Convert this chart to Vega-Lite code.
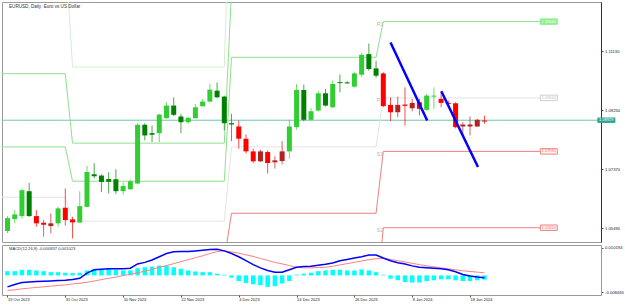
{
  "$schema": "https://vega.github.io/schema/vega-lite/v6.json",
  "background": "white",
  "padding": {"left": 1, "top": 1, "right": 0, "bottom": 0},
  "autosize": {"type": "pad"},
  "spacing": 1,
  "config": {
    "font": "Liberation Sans",
    "view": {"stroke": "#9a9a9a", "strokeWidth": 1},
    "axis": {"grid": false, "labelOverlap": false, "labelFlush": false, "labelColor": "#222", "tickColor": "#555"},
    "axisX": {"labelOverlap": false},
    "axisY": {"labelOverlap": false}
  },
  "datasets": {
    "candles": [
      {"i":0,"o":1.05405,"h":1.05880,"l":1.05341,"c":1.05816,"k":"up-bull"},
      {"i":1,"o":1.05785,"h":1.06070,"l":1.05649,"c":1.05934,"k":"up-bull"},
      {"i":2,"o":1.05880,"h":1.06757,"l":1.05807,"c":1.06703,"k":"up-bull"},
      {"i":3,"o":1.06672,"h":1.06934,"l":1.05858,"c":1.05880,"k":"up-bear"},
      {"i":4,"o":1.05880,"h":1.06070,"l":1.05541,"c":1.05649,"k":"down-bear"},
      {"i":5,"o":1.05668,"h":1.05753,"l":1.05224,"c":1.05604,"k":"down-bear"},
      {"i":6,"o":1.05563,"h":1.05965,"l":1.05332,"c":1.05649,"k":"down-bull"},
      {"i":7,"o":1.05649,"h":1.06174,"l":1.05541,"c":1.06124,"k":"up-bull"},
      {"i":8,"o":1.06143,"h":1.06757,"l":1.05579,"c":1.05753,"k":"down-bear"},
      {"i":9,"o":1.05775,"h":1.05858,"l":1.05167,"c":1.05680,"k":"down-bear"},
      {"i":10,"o":1.05674,"h":1.06672,"l":1.05668,"c":1.06197,"k":"up-bull"},
      {"i":11,"o":1.06174,"h":1.07479,"l":1.06165,"c":1.07283,"k":"up-bull"},
      {"i":12,"o":1.07210,"h":1.07558,"l":1.07083,"c":1.07147,"k":"up-bear"},
      {"i":13,"o":1.07169,"h":1.07210,"l":1.06640,"c":1.06966,"k":"up-bear"},
      {"i":14,"o":1.07058,"h":1.07273,"l":1.06599,"c":1.06972,"k":"up-bear"},
      {"i":15,"o":1.07052,"h":1.07368,"l":1.06586,"c":1.06672,"k":"up-bear"},
      {"i":16,"o":1.06672,"h":1.06950,"l":1.06561,"c":1.06836,"k":"up-bull"},
      {"i":17,"o":1.06735,"h":1.07042,"l":1.06719,"c":1.06988,"k":"up-bull"},
      {"i":18,"o":1.06915,"h":1.08835,"l":1.06893,"c":1.08784,"k":"up-bull"},
      {"i":19,"o":1.08784,"h":1.08835,"l":1.08287,"c":1.08445,"k":"up-bear"},
      {"i":20,"o":1.08518,"h":1.08762,"l":1.08233,"c":1.08467,"k":"up-bear"},
      {"i":21,"o":1.08518,"h":1.09132,"l":1.08233,"c":1.09110,"k":"up-bull"},
      {"i":22,"o":1.08993,"h":1.09500,"l":1.08984,"c":1.09395,"k":"up-bull"},
      {"i":23,"o":1.09395,"h":1.09658,"l":1.09063,"c":1.09101,"k":"up-bear"},
      {"i":24,"o":1.09047,"h":1.09132,"l":1.08518,"c":1.08866,"k":"up-bear"},
      {"i":25,"o":1.08866,"h":1.09025,"l":1.08816,"c":1.09006,"k":"up-bull"},
      {"i":26,"o":1.08993,"h":1.09449,"l":1.08984,"c":1.09341,"k":"up-bull"},
      {"i":27,"o":1.09373,"h":1.09607,"l":1.09364,"c":1.09522,"k":"up-bull"},
      {"i":28,"o":1.09522,"h":1.10082,"l":1.09500,"c":1.09902,"k":"up-bull"},
      {"i":29,"o":1.09870,"h":1.10133,"l":1.09633,"c":1.09658,"k":"up-bear"},
      {"i":30,"o":1.09680,"h":1.09712,"l":1.08603,"c":1.08835,"k":"up-bear"},
      {"i":31,"o":1.08835,"h":1.09132,"l":1.08265,"c":1.08793,"k":"up-bear"},
      {"i":32,"o":1.08730,"h":1.08920,"l":1.08024,"c":1.08341,"k":"down-bear"},
      {"i":33,"o":1.08341,"h":1.08477,"l":1.07866,"c":1.07938,"k":"down-bear"},
      {"i":34,"o":1.07938,"h":1.08018,"l":1.07574,"c":1.07622,"k":"down-bear"},
      {"i":35,"o":1.07622,"h":1.07992,"l":1.07600,"c":1.07938,"k":"down-bull"},
      {"i":36,"o":1.07916,"h":1.07970,"l":1.07232,"c":1.07568,"k":"down-bear"},
      {"i":37,"o":1.07590,"h":1.07780,"l":1.07391,"c":1.07653,"k":"down-bull"},
      {"i":38,"o":1.07631,"h":1.08265,"l":1.07527,"c":1.07938,"k":"down-bull"},
      {"i":39,"o":1.07938,"h":1.08942,"l":1.07707,"c":1.08730,"k":"up-bull"},
      {"i":40,"o":1.08708,"h":1.10082,"l":1.08626,"c":1.09892,"k":"up-bull"},
      {"i":41,"o":1.09892,"h":1.10060,"l":1.08888,"c":1.08942,"k":"up-bear"},
      {"i":42,"o":1.08942,"h":1.09322,"l":1.08920,"c":1.09215,"k":"up-bull"},
      {"i":43,"o":1.09237,"h":1.09870,"l":1.09205,"c":1.09785,"k":"up-bull"},
      {"i":44,"o":1.09785,"h":1.09924,"l":1.09364,"c":1.09395,"k":"up-bear"},
      {"i":45,"o":1.09341,"h":1.10187,"l":1.09316,"c":1.10082,"k":"up-bull"},
      {"i":46,"o":1.10139,"h":1.10377,"l":1.09816,"c":1.10108,"k":"up-bear"},
      {"i":47,"o":1.10133,"h":1.10171,"l":1.10092,"c":1.10101,"k":"up-bear"},
      {"i":48,"o":1.09997,"h":1.10472,"l":1.09965,"c":1.10418,"k":"up-bull"},
      {"i":49,"o":1.10377,"h":1.11074,"l":1.10314,"c":1.11010,"k":"up-bull"},
      {"i":50,"o":1.11033,"h":1.11368,"l":1.10504,"c":1.10558,"k":"up-bear"},
      {"i":51,"o":1.10577,"h":1.10820,"l":1.10282,"c":1.10345,"k":"up-bear"},
      {"i":52,"o":1.10418,"h":1.10456,"l":1.09348,"c":1.09379,"k":"down-bear"},
      {"i":53,"o":1.09417,"h":1.09658,"l":1.08898,"c":1.09183,"k":"down-bear"},
      {"i":54,"o":1.09183,"h":1.09680,"l":1.09025,"c":1.09417,"k":"down-bull"},
      {"i":55,"o":1.09427,"h":1.09975,"l":1.08762,"c":1.09386,"k":"down-bear"},
      {"i":56,"o":1.09310,"h":1.09607,"l":1.09215,"c":1.09481,"k":"down-bull"},
      {"i":57,"o":1.09500,"h":1.09607,"l":1.09078,"c":1.09291,"k":"down-bear"},
      {"i":58,"o":1.09259,"h":1.09766,"l":1.09237,"c":1.09712,"k":"up-bull"},
      {"i":59,"o":1.09680,"h":1.09975,"l":1.09291,"c":1.09712,"k":"up-bull"},
      {"i":60,"o":1.09607,"h":1.09816,"l":1.09341,"c":1.09481,"k":"down-bear"},
      {"i":61,"o":1.09481,"h":1.09554,"l":1.09395,"c":1.09449,"k":"down-bear"},
      {"i":62,"o":1.09468,"h":1.09500,"l":1.08667,"c":1.08708,"k":"down-bear"},
      {"i":63,"o":1.08730,"h":1.08866,"l":1.08445,"c":1.08793,"k":"down-bull"},
      {"i":64,"o":1.08730,"h":1.09047,"l":1.08445,"c":1.08793,"k":"down-bull"},
      {"i":65,"o":1.08730,"h":1.08974,"l":1.08714,"c":1.08942,"k":"down-bull"},
      {"i":66,"o":1.08920,"h":1.09078,"l":1.08816,"c":1.08888,"k":"down-bear"}
    ],
    "macd": [
      {"i":0,"m":-0.00445,"s":-0.00581,"h":0.00163},
      {"i":1,"m":-0.00353,"s":-0.00559,"h":0.00163},
      {"i":2,"m":-0.00277,"s":-0.00521,"h":0.00217},
      {"i":3,"m":-0.00255,"s":-0.00494,"h":0.00217},
      {"i":4,"m":-0.00239,"s":-0.00467,"h":0.0019},
      {"i":5,"m":-0.00228,"s":-0.00445,"h":0.00163},
      {"i":6,"m":-0.00217,"s":-0.00418,"h":0.00125},
      {"i":7,"m":-0.00201,"s":-0.00391,"h":0.00125},
      {"i":8,"m":-0.0019,"s":-0.00369,"h":0.00103},
      {"i":9,"m":-0.00163,"s":-0.00331,"h":0.00087},
      {"i":10,"m":-0.00114,"s":-0.00304,"h":0.00103},
      {"i":11,"m":0.00087,"s":-0.00266,"h":0.0019},
      {"i":12,"m":0.00217,"s":-0.00217,"h":0.00255},
      {"i":13,"m":0.00239,"s":-0.00163,"h":0.00255},
      {"i":14,"m":0.00255,"s":-0.00114,"h":0.00255},
      {"i":15,"m":0.00255,"s":-0.00065,"h":0.00217},
      {"i":16,"m":0.00255,"s":-0.00011,"h":0.0019},
      {"i":17,"m":0.00277,"s":0.00049,"h":0.0019},
      {"i":18,"m":0.00445,"s":0.00103,"h":0.00277},
      {"i":19,"m":0.00505,"s":0.00163,"h":0.00315},
      {"i":20,"m":0.00597,"s":0.00228,"h":0.00342},
      {"i":21,"m":0.00722,"s":0.00315,"h":0.0038},
      {"i":22,"m":0.00847,"s":0.0038,"h":0.0038},
      {"i":23,"m":0.00912,"s":0.00456,"h":0.00315},
      {"i":24,"m":0.00923,"s":0.00532,"h":0.00255},
      {"i":25,"m":0.00923,"s":0.00608,"h":0.0019},
      {"i":26,"m":0.0095,"s":0.00684,"h":0.00152},
      {"i":27,"m":0.00977,"s":0.0076,"h":0.00125},
      {"i":28,"m":0.00999,"s":0.00847,"h":0.00125},
      {"i":29,"m":0.01015,"s":0.00923,"h":0.00065},
      {"i":30,"m":0.0095,"s":0.0095,"h":0.00027},
      {"i":31,"m":0.00847,"s":0.00912,"h":-0.00087},
      {"i":32,"m":0.00722,"s":0.00863,"h":-0.00217},
      {"i":33,"m":0.0057,"s":0.00798,"h":-0.00293},
      {"i":34,"m":0.00418,"s":0.00733,"h":-0.00342},
      {"i":35,"m":0.00293,"s":0.00657,"h":-0.0038},
      {"i":36,"m":0.0019,"s":0.00581,"h":-0.00445},
      {"i":37,"m":0.00125,"s":0.00505,"h":-0.00418},
      {"i":38,"m":0.00125,"s":0.00445,"h":-0.00315},
      {"i":39,"m":0.00217,"s":0.0038,"h":-0.00217},
      {"i":40,"m":0.00315,"s":0.00315,"h":0.00027},
      {"i":41,"m":0.00342,"s":0.00293,"h":0.00065},
      {"i":42,"m":0.00353,"s":0.00293,"h":0.00103},
      {"i":43,"m":0.00391,"s":0.00304,"h":0.00163},
      {"i":44,"m":0.00429,"s":0.00315,"h":0.0019},
      {"i":45,"m":0.00483,"s":0.00353,"h":0.00217},
      {"i":46,"m":0.0057,"s":0.00407,"h":0.00217},
      {"i":47,"m":0.00619,"s":0.00456,"h":0.0019},
      {"i":48,"m":0.00673,"s":0.00505,"h":0.0019},
      {"i":49,"m":0.00722,"s":0.00559,"h":0.00228},
      {"i":50,"m":0.00787,"s":0.00608,"h":0.0019},
      {"i":51,"m":0.00787,"s":0.00646,"h":0.00125},
      {"i":52,"m":0.00673,"s":0.00657,"h":0.00027},
      {"i":53,"m":0.0057,"s":0.00619,"h":-0.00125},
      {"i":54,"m":0.00494,"s":0.0057,"h":-0.0019},
      {"i":55,"m":0.00445,"s":0.00521,"h":-0.00255},
      {"i":56,"m":0.00369,"s":0.00467,"h":-0.00277},
      {"i":57,"m":0.00315,"s":0.00418,"h":-0.00277},
      {"i":58,"m":0.00293,"s":0.00369,"h":-0.00217},
      {"i":59,"m":0.00277,"s":0.00331,"h":-0.0019},
      {"i":60,"m":0.00255,"s":0.00293,"h":-0.00152},
      {"i":61,"m":0.00217,"s":0.00255,"h":-0.00152},
      {"i":62,"m":0.00141,"s":0.00217,"h":-0.0019},
      {"i":63,"m":0.00038,"s":0.00179,"h":-0.00217},
      {"i":64,"m":-0.00027,"s":0.00152,"h":-0.00217},
      {"i":65,"m":-0.00065,"s":0.00125,"h":-0.0019},
      {"i":66,"m":-0.00087,"s":0.00103,"h":-0.00163}
    ],
    "levels": [
      {"s":"R1","i":-1,"v":1.0808},{"s":"R1","i":8,"v":1.0808},{"s":"R1","i":9,"v":1.0699},{"s":"R1","i":30,"v":1.0699},{"s":"R1","i":31,"v":1.1093},{"s":"R1","i":51,"v":1.1093},{"s":"R1","i":52,"v":1.12065},{"s":"R1","i":73.7,"v":1.12065},
      {"s":"R2","i":-1,"v":1.1041},{"s":"R2","i":8,"v":1.1041},{"s":"R2","i":9,"v":1.0820},{"s":"R2","i":30,"v":1.0820},{"s":"R2","i":31,"v":1.1307},{"s":"R2","i":51,"v":1.1307},{"s":"R2","i":52,"v":1.1384},{"s":"R2","i":73.7,"v":1.1384},
      {"s":"R3","i":-1,"v":1.1436},{"s":"R3","i":8,"v":1.1436},{"s":"R3","i":9,"v":1.1062},{"s":"R3","i":30,"v":1.1062},{"s":"R3","i":31,"v":1.18},{"s":"R3","i":51,"v":1.18},{"s":"R3","i":73.7,"v":1.18},
      {"s":"P","i":-1,"v":1.0648},{"s":"P","i":8,"v":1.0648},{"s":"P","i":9,"v":1.0572},{"s":"P","i":30,"v":1.0572},{"s":"P","i":31,"v":1.0808},{"s":"P","i":51,"v":1.0808},{"s":"P","i":52,"v":1.09639},{"s":"P","i":73.7,"v":1.09639},
      {"s":"S1","i":-1,"v":1.0414},{"s":"S1","i":8,"v":1.0414},{"s":"S1","i":9,"v":1.0451},{"s":"S1","i":30,"v":1.0451},{"s":"S1","i":31,"v":1.0597},{"s":"S1","i":51,"v":1.0597},{"s":"S1","i":52,"v":1.07938},{"s":"S1","i":73.7,"v":1.07938},
      {"s":"S2","i":-1,"v":1.0254},{"s":"S2","i":8,"v":1.0254},{"s":"S2","i":9,"v":1.0326},{"s":"S2","i":30,"v":1.0326},{"s":"S2","i":31,"v":1.0307},{"s":"S2","i":51,"v":1.0307},{"s":"S2","i":52,"v":1.0551},{"s":"S2","i":73.7,"v":1.0551}
    ],
    "jan": [
      {"n":"R1","li":51.1,"bi":74.9,"v":1.12065,"t":"1.12065"},
      {"n":"P","li":51.1,"bi":74.9,"v":1.09639,"t":"1.09644"},
      {"n":"S1","li":51.1,"bi":74.9,"v":1.07938,"t":"1.07935"},
      {"n":"S2","li":51.1,"bi":74.9,"v":1.0551,"t":"1.05500"}
    ],
    "trend": [
      {"seg":"a","i":53.0,"v":1.1140},{"seg":"a","i":58.07,"v":1.0892},
      {"seg":"b","i":60.03,"v":1.09848},{"seg":"b","i":65.1,"v":1.07441}
    ],
    "price": [{"bi":82.86,"v":1.08929,"t":"1.08929"}],
    "titles": [{"t":"EURUSD, Daily: Euro vs US Dollar","x":-0.068,"y":1.12689}],
    "macdtitle": [{"t":"MACD(12,26,9) -0.000837 0.001023","x":-0.068,"y":0.01178}]
  },
  "vconcat": [
    {
      "width": 599,
      "height": 240,
      "resolve": {"scale": {"color": "independent", "fill": "independent", "stroke": "independent", "strokeWidth": "independent"}},
      "layer": [
        {
          "data": {"name": "price"},
          "mark": {"type": "rule", "color": "#6cc4b4", "strokeWidth": 1},
          "encoding": {
            "y": {"field": "v", "type": "quantitative", "scale": {"domain": [1.05056, 1.12689], "nice": false, "zero": false},
              "axis": {"title": null, "orient": "right", "values": [1.1254,1.1207,1.116,1.1113,1.1066,1.1019,1.0972,1.0925,1.0878,1.0831,1.0784,1.0737,1.069,1.0643,1.0596,1.0549], "format": ".5f", "labelFontSize": 4.2, "tickSize": 2, "tickColor": "#444", "domainColor": "#333", "labelPadding": 1.5, "labelOverlap": false, "labelFlush": false, "labelBound": false}}
          }
        },
        {
          "data": {"name": "levels"},
          "mark": {"type": "line", "clip": true},
          "encoding": {
            "x": {"field": "i", "type": "quantitative", "scale": {"domain": [-0.068, 81.43], "nice": false, "zero": false}, "axis": null},
            "y": {"field": "v", "type": "quantitative", "axis": {"title": null, "labelOverlap": false}},
            "detail": {"field": "s"},
            "color": {"field": "s", "type": "nominal", "legend": null, "scale": {"domain": ["R1","R2","R3","P","S1","S2"], "range": ["#8fe08f","#8fe08f","#d2efd2","#e4e4e4","#f08080","#f08080"]}},
            "strokeWidth": {"field": "s", "type": "nominal", "legend": null, "scale": {"domain": ["R1","R2","R3","P","S1","S2"], "range": [1,1,2,1.5,1,1]}}
          }
        },
        {
          "data": {"name": "jan"},
          "mark": {"type": "text", "align": "left", "baseline": "top", "dy": 0.5, "fontSize": 5, "color": "#b4b4b4"},
          "encoding": {
            "x": {"field": "li", "type": "quantitative", "axis": null},
            "y": {"field": "v", "type": "quantitative", "axis": {"title": null, "labelOverlap": false}},
            "text": {"field": "n"}
          }
        },
        {
          "data": {"name": "jan"},
          "mark": {"type": "point", "shape": "M-1,-0.32H1V0.32H-1Z", "size": 289, "filled": false, "strokeWidth": 1, "opacity": 1},
          "encoding": {
            "x": {"field": "bi", "type": "quantitative", "axis": null},
            "y": {"field": "v", "type": "quantitative", "axis": {"title": null, "labelOverlap": false}},
            "fill": {"field": "n", "type": "nominal", "legend": null, "scale": {"domain": ["R1","P","S1","S2"], "range": ["#90ee90","#ffffff","#fff4f4","#fff4f4"]}},
            "stroke": {"field": "n", "type": "nominal", "legend": null, "scale": {"domain": ["R1","P","S1","S2"], "range": ["#90ee90","#cfcfcf","#f08080","#f08080"]}}
          }
        },
        {
          "data": {"name": "jan"},
          "mark": {"type": "text", "align": "center", "baseline": "middle", "fontSize": 4},
          "encoding": {
            "x": {"field": "bi", "type": "quantitative", "axis": null},
            "y": {"field": "v", "type": "quantitative", "axis": {"title": null, "labelOverlap": false}},
            "text": {"field": "t"},
            "color": {"field": "n", "type": "nominal", "legend": null, "scale": {"domain": ["R1","P","S1","S2"], "range": ["#ffffff","#c0c0c0","#f07070","#f07070"]}}
          }
        },
        {
          "data": {"name": "candles"},
          "mark": {"type": "rule", "strokeWidth": 1, "opacity": 0.7},
          "encoding": {
            "x": {"field": "i", "type": "quantitative", "axis": null},
            "y": {"field": "l", "type": "quantitative", "axis": {"title": null, "labelOverlap": false}},
            "y2": {"field": "h"},
            "color": {"field": "k", "type": "nominal", "legend": null, "scale": {"domain": ["up-bull","up-bear","down-bear","down-bull"], "range": ["#32cd32","#008000","#ff0000","#b22222"]}}
          }
        },
        {
          "data": {"name": "candles"},
          "mark": {"type": "bar", "width": 5},
          "encoding": {
            "x": {"field": "i", "type": "quantitative", "axis": null},
            "y": {"field": "o", "type": "quantitative", "axis": {"title": null, "labelOverlap": false}},
            "y2": {"field": "c"},
            "color": {"field": "k", "type": "nominal", "legend": null, "scale": {"domain": ["up-bull","up-bear","down-bear","down-bull"], "range": ["#32cd32","#008000","#ff0000","#b22222"]}}
          }
        },
        {
          "data": {"name": "trend"},
          "mark": {"type": "line", "color": "#0000ff", "strokeWidth": 2.5, "clip": true},
          "encoding": {
            "x": {"field": "i", "type": "quantitative", "axis": null},
            "y": {"field": "v", "type": "quantitative", "axis": {"title": null, "labelOverlap": false}},
            "detail": {"field": "seg"}
          }
        },
        {
          "data": {"name": "price"},
          "mark": {"type": "point", "shape": "M-1,-0.3H1V0.3H-1Z", "size": 324, "filled": true, "color": "#2ea593", "opacity": 1, "clip": false},
          "encoding": {
            "x": {"field": "bi", "type": "quantitative", "axis": null},
            "y": {"field": "v", "type": "quantitative", "axis": {"title": null, "labelOverlap": false}}
          }
        },
        {
          "data": {"name": "price"},
          "mark": {"type": "text", "align": "center", "baseline": "middle", "fontSize": 4, "color": "#ffffff", "clip": false},
          "encoding": {
            "x": {"field": "bi", "type": "quantitative", "axis": null},
            "y": {"field": "v", "type": "quantitative", "axis": {"title": null, "labelOverlap": false}},
            "text": {"field": "t"}
          }
        },
        {
          "data": {"name": "titles"},
          "mark": {"type": "text", "align": "left", "baseline": "top", "dx": 2, "dy": 1.5, "fontSize": 4.6, "color": "#333"},
          "encoding": {
            "x": {"field": "x", "type": "quantitative", "axis": null},
            "y": {"field": "y", "type": "quantitative", "axis": {"title": null, "labelOverlap": false}},
            "text": {"field": "t"}
          }
        }
      ]
    },
    {
      "width": 599,
      "height": 50,
      "layer": [
        {
          "data": {"name": "macd"},
          "mark": {"type": "bar", "width": 4.5, "color": "#00ffff"},
          "encoding": {
            "x": {"field": "i", "type": "quantitative", "scale": {"domain": [-0.068, 81.43], "nice": false, "zero": false},
              "axis": {"title": null, "orient": "bottom", "values": [0,4,8,12,16,20,24,28,32,36,40,44,48,52,56,60,64],
                "labelExpr": "['19 Oct 2023','25 Oct 2023','31 Oct 2023','6 Nov 2023','10 Nov 2023','16 Nov 2023','22 Nov 2023','28 Nov 2023','4 Dec 2023','8 Dec 2023','14 Dec 2023','20 Dec 2023','26 Dec 2023','2 Jan 2024','8 Jan 2024','12 Jan 2024','18 Jan 2024'][round(datum.value/4)]",
                "labelFontSize": 4, "labelAlign": "left", "labelBaseline": "top", "labelDx": 1, "labelPadding": 0.5, "tickSize": 2, "domain": false, "labelColor": "#222", "labelOverlap": false, "labelFlush": false, "labelBound": false}},
            "y": {"field": "h", "type": "quantitative", "scale": {"domain": [-0.0076, 0.01178], "nice": false, "zero": false},
              "axis": {"title": null, "orient": "right", "values": [0.0108, -0.0066], "labelExpr": "datum.value > 0 ? '0.010194' : '-0.008465'", "labelFontSize": 4.2, "tickSize": 2, "domainColor": "#999", "labelPadding": 1.5, "labelOverlap": false, "labelFlush": false}},
            "y2": {"datum": 0}
          }
        },
        {
          "data": {"name": "macd"},
          "mark": {"type": "line", "color": "#ff8080", "strokeWidth": 1},
          "encoding": {
            "x": {"field": "i", "type": "quantitative", "axis": {"title": null, "labelOverlap": false}},
            "y": {"field": "s", "type": "quantitative", "axis": {"title": null, "labelOverlap": false}}
          }
        },
        {
          "data": {"name": "macd"},
          "mark": {"type": "line", "color": "#0000ff", "strokeWidth": 1.5},
          "encoding": {
            "x": {"field": "i", "type": "quantitative", "axis": {"title": null, "labelOverlap": false}},
            "y": {"field": "m", "type": "quantitative", "axis": {"title": null, "labelOverlap": false}}
          }
        },
        {
          "data": {"name": "macdtitle"},
          "mark": {"type": "text", "align": "left", "baseline": "top", "dx": 2, "dy": 1.5, "fontSize": 4.1, "color": "#333"},
          "encoding": {
            "x": {"field": "x", "type": "quantitative", "axis": {"title": null, "labelOverlap": false}},
            "y": {"field": "y", "type": "quantitative", "axis": {"title": null, "labelOverlap": false}},
            "text": {"field": "t"}
          }
        }
      ]
    }
  ]
}
